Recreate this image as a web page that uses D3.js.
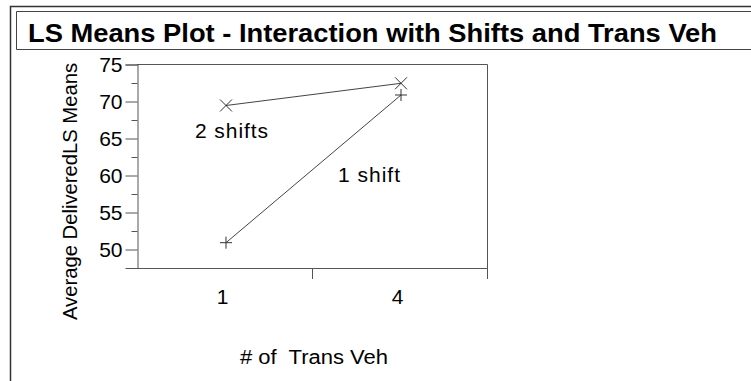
<!DOCTYPE html>
<html>
<head>
<meta charset="utf-8">
<script src="https://cdn.jsdelivr.net/npm/d3@7"></script>
<style>
  html, body { margin: 0; padding: 0; background: #fff; }
  svg { display: block; }
  text { font-family: "Liberation Sans", Arial, sans-serif; fill: #000; }
</style>
</head>
<body>
<svg id="chart" width="751" height="381"></svg>
<script>
// ---- data ----
const categories = ["1", "4"];
const shifts2 = [69.46, 72.46];   // "2 shifts"
const shifts1 = [50.92, 70.88];   // "1 shift"
const yMajorTicks = [50, 55, 60, 65, 70, 75];
const yMinorTicks = [47.5, 52.5, 57.5, 62.5, 67.5, 72.5];
const titleText = "LS Means Plot - Interaction with Shifts and Trans Veh";
const xTitle = "# of  Trans Veh";
const yTitle = "Average DeliveredLS Means";
const seriesLabels = ["2 shifts", "1 shift"];

(function () {
// ---- layout ----
const svg = d3.select("#chart");
const W = 751, H = 381;
const pLeft = 137, pRight = 487, pTop = 64.5, pBottom = 268;
const axisColor = "#555";

// outer frame
svg.append("path").attr("d", `M10.5,${H} V6.5 H${W}`)
  .attr("fill", "none").attr("stroke", "#333").attr("stroke-width", 1.5);
// title box
svg.append("path").attr("d", `M${W},11.5 H16.5 V49.5 H${W}`)
  .attr("fill", "none").attr("stroke", "#444").attr("stroke-width", 1);
svg.append("text").attr("x", 28).attr("y", 41.5)
  .attr("font-size", 26).attr("font-weight", "bold")
  .attr("textLength", 689).attr("lengthAdjust", "spacingAndGlyphs")
  .text(titleText);

const x = d3.scaleBand().domain(categories).range([pLeft, pRight]);
const y = d3.scaleLinear().domain([47.5, 75]).range([pBottom, pTop]);
const cx = c => x(c) + x.bandwidth() / 2 + 1.5;

// plot frame (top + right)
svg.append("path").attr("d", `M${pLeft},${pTop} H${pRight + 0.5} V${pBottom}`)
  .attr("fill", "none").attr("stroke", axisColor).attr("stroke-width", 1);

// y axis major
const gy = svg.append("g").attr("transform", `translate(${pLeft + 0.5},0)`)
  .call(d3.axisLeft(y).tickValues(yMajorTicks).tickSize(12).tickPadding(3).tickFormat(d3.format("d")));
gy.select(".domain").attr("stroke", axisColor);
gy.selectAll(".tick line").attr("stroke", axisColor);
gy.selectAll(".tick text").attr("font-size", 21).attr("font-family", "Liberation Sans, Arial, sans-serif")
  .attr("fill", "#000").attr("dy", "0.34em");
// y axis minor
const gym = svg.append("g").attr("transform", `translate(${pLeft + 0.5},0)`)
  .call(d3.axisLeft(y).tickValues(yMinorTicks).tickSize(6).tickFormat(""));
gym.select(".domain").remove();
gym.selectAll(".tick line").attr("stroke", axisColor);

// x axis line + boundary ticks
svg.append("line").attr("x1", pLeft).attr("x2", pRight + 1)
  .attr("y1", pBottom + 0.5).attr("y2", pBottom + 0.5).attr("stroke", axisColor);
const bounds = [x(categories[1]), pRight];
svg.selectAll(".xb").data(bounds).enter().append("line")
  .attr("x1", d => Math.round(d) + 0.5).attr("x2", d => Math.round(d) + 0.5)
  .attr("y1", pBottom).attr("y2", pBottom + 11).attr("stroke", axisColor);
// x tick labels
svg.selectAll(".xl").data(categories).enter().append("text")
  .attr("x", d => x(d) + x.bandwidth() / 2 - 2).attr("y", 304)
  .attr("text-anchor", "middle").attr("font-size", 21).text(d => d);

// axis titles
svg.append("text").attr("x", 240).attr("y", 364).attr("font-size", 20)
  .attr("textLength", 148).attr("lengthAdjust", "spacingAndGlyphs")
  .style("white-space", "pre").text(xTitle);
svg.append("text").attr("transform", "translate(77,191.5) rotate(-90)")
  .attr("text-anchor", "middle").attr("font-size", 20)
  .attr("textLength", 257).attr("lengthAdjust", "spacingAndGlyphs")
  .text(yTitle);

// lines
const line = d3.line().x((d, i) => cx(categories[i])).y(d => y(d));
[shifts2, shifts1].forEach(s => {
  svg.append("path").attr("d", line(s)).attr("fill", "none")
    .attr("stroke", "#444").attr("stroke-width", 1);
});

// markers
const m = 6;
shifts2.forEach((v, i) => {
  const px = cx(categories[i]), py = y(v);
  svg.append("path").attr("d", `M${px - m},${py - m}L${px + m},${py + m}M${px - m},${py + m}L${px + m},${py - m}`)
    .attr("stroke", "#333").attr("stroke-width", 1).attr("fill", "none");
});
shifts1.forEach((v, i) => {
  const px = cx(categories[i]), py = y(v);
  svg.append("path").attr("d", `M${px - m},${py}H${px + m}M${px},${py - m}V${py + m}`)
    .attr("stroke", "#333").attr("stroke-width", 1).attr("fill", "none");
});

// series labels
svg.append("text").attr("x", 195).attr("y", 138).attr("font-size", 21)
  .attr("textLength", 73).attr("lengthAdjust", "spacing").text(seriesLabels[0]);
svg.append("text").attr("x", 338).attr("y", 181.5).attr("font-size", 21)
  .attr("textLength", 62).attr("lengthAdjust", "spacing").text(seriesLabels[1]);
})();
</script>
</body>
</html>
